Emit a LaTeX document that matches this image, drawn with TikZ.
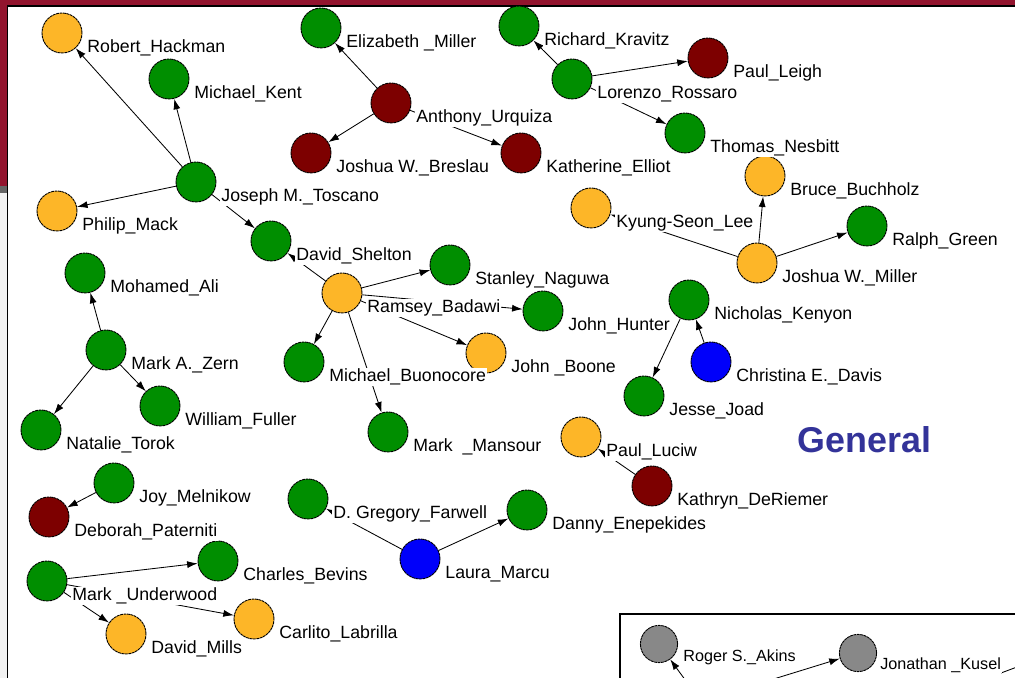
\documentclass[tikz,border=0pt]{standalone}
\usepackage{fontspec}
\setmainfont{Liberation Sans}
\usetikzlibrary{arrows.meta}
\definecolor{amber}{RGB}{253,182,40}
\definecolor{leaf}{RGB}{0,142,0}
\definecolor{wine}{RGB}{125,0,0}
\definecolor{royal}{RGB}{0,0,250}
\definecolor{ash}{RGB}{136,136,136}
\definecolor{slide}{RGB}{146,20,46}
\definecolor{titleblue}{RGB}{51,51,153}
\begin{document}
\begin{tikzpicture}[x=0.025cm, y=-0.025cm,
	person/.style={circle, draw, line width=0.65pt, dash pattern=on 2pt off 0.45pt, minimum size=1cm, inner sep=0pt},
	amberp/.style={person, fill=amber},
	leafp/.style={person, fill=leaf},
	winep/.style={person, fill=wine},
	royalp/.style={person, fill=royal},
	ashp/.style={person, fill=ash, minimum size=0.93cm},
	tag/.style={fill=white, inner sep=0.8pt, anchor=base west, font=\fontsize{12.6}{15}\selectfont},
	smalltag/.style={tag, font=\fontsize{11.5}{14}\selectfont},
	link/.style={line width=0.6pt, -{Latex[length=7.5pt,width=5pt]}}]
		\path[use as bounding box] (0,0) rectangle (1015,678);
		\clip (0,0) rectangle (1015,678);

		% slide frame
		\fill[slide] (0,0) rectangle (1015,5.5);
		\fill[slide] (0,0) rectangle (7,186);
		\fill[black!60] (0,186) rectangle (7,193);
		\fill[black!5] (0,193) rectangle (7,678);
		\draw[line width=1.4pt] (7.5,678) |- (1015,6.2);
		\draw[line width=1.1pt] (620,690) |- (1030,614);

		\path (62,33) node[amberp] (hackman) {}
		(169,79) node[leafp] (kent) {}
		(196,182) node[leafp] (toscano) {}
		(57,211) node[amberp] (mack) {}
		(271,241) node[leafp] (shelton) {}
		(321,28) node[leafp] (emiller) {}
		(391,103) node[winep] (urquiza) {}
		(311,153) node[winep] (breslau) {}
		(521,153) node[winep] (elliot) {}
		(519,26) node[leafp] (kravitz) {}
		(572,79) node[leafp] (rossaro) {}
		(708,58) node[winep] (leigh) {}
		(685,133) node[leafp] (nesbitt) {}
		(765,176) node[amberp] (buchholz) {}
		(591,208) node[amberp] (lee) {}
		(867,226) node[leafp] (ralph) {}
		(757,263) node[amberp] (jmiller) {}
		(85,273) node[leafp] (ali) {}
		(106,350) node[leafp] (zern) {}
		(41,430) node[leafp] (torok) {}
		(160,406) node[leafp] (fuller) {}
		(342,293) node[amberp] (badawi) {}
		(450,265) node[leafp] (naguwa) {}
		(543,311) node[leafp] (hunter) {}
		(486,353) node[amberp] (boone) {}
		(304,362) node[leafp] (buonocore) {}
		(388,432) node[leafp] (mansour) {}
		(689,300) node[leafp] (kenyon) {}
		(711,362) node[royalp] (davis) {}
		(644,396) node[leafp] (joad) {}
		(581,437) node[amberp] (luciw) {}
		(652,486) node[winep] (deriemer) {}
		(114,483) node[leafp] (melnikow) {}
		(49,517) node[winep] (paterniti) {}
		(47,581) node[leafp] (underwood) {}
		(218,561) node[leafp] (bevins) {}
		(254,619) node[amberp] (labrilla) {}
		(126,634) node[amberp] (mills) {}
		(308,499) node[leafp] (farwell) {}
		(420,559) node[royalp] (marcu) {}
		(527,510) node[leafp] (enepekides) {}
		(659,644) node[ashp] (akins) {}
		(858,653) node[ashp] (kusel) {};

		\coordinate (akinsIn) at (702,703);
		\coordinate (kuselIn) at (738,690);
		\coordinate (offA) at (1001,673);
		\coordinate (offB) at (1025,664);

		\path[link] (toscano) edge (hackman) edge (kent) edge (mack) edge (shelton)
		(urquiza) edge (emiller) edge (breslau) edge (elliot)
		(rossaro) edge (kravitz) edge (leigh) edge (nesbitt)
		(jmiller) edge (buchholz) edge (ralph) edge (lee)
		(badawi) edge (shelton) edge (naguwa) edge (hunter) edge (boone) edge (buonocore) edge (mansour)
		(zern) edge (ali) edge (torok) edge (fuller)
		(kenyon) edge (joad)
		(davis) edge (kenyon)
		(deriemer) edge (luciw)
		(melnikow) edge (paterniti)
		(underwood) edge (bevins) edge (mills) edge (labrilla)
		(marcu) edge (farwell) edge (enepekides)
		(akinsIn) edge (akins)
		(kuselIn) edge (kusel);
		\draw[line width=0.6pt] (offA) -- (offB);

		% names
		\path node[tag] (hackmanL) at ([shift={(24,19.5)}]hackman.center) {Robert\_Hackman}
		node[tag] (kentL) at ([shift={(24,19.5)}]kent.center) {Michael\_Kent}
		node[tag] (toscanoL) at ([shift={(24,19.5)}]toscano.center) {Joseph M.\_Toscano}
		node[tag] (mackL) at ([shift={(24,19.5)}]mack.center) {Philip\_Mack}
		node[tag] (sheltonL) at ([shift={(24,19.5)}]shelton.center) {David\_Shelton}
		node[tag] (emillerL) at ([shift={(24,19.5)}]emiller.center) {Elizabeth \_Miller}
		node[tag] (urquizaL) at ([shift={(24,19.5)}]urquiza.center) {Anthony\_Urquiza}
		node[tag] (breslauL) at ([shift={(24,19.5)}]breslau.center) {Joshua W.\_Breslau}
		node[tag] (elliotL) at ([shift={(24,19.5)}]elliot.center) {Katherine\_Elliot}
		node[tag] (kravitzL) at ([shift={(24,19.5)}]kravitz.center) {Richard\_Kravitz}
		node[tag] (rossaroL) at ([shift={(24,19.5)}]rossaro.center) {Lorenzo\_Rossaro}
		node[tag] (leighL) at ([shift={(24,19.5)}]leigh.center) {Paul\_Leigh}
		node[tag] (nesbittL) at ([shift={(24,19.5)}]nesbitt.center) {Thomas\_Nesbitt}
		node[tag] (buchholzL) at ([shift={(24,19.5)}]buchholz.center) {Bruce\_Buchholz}
		node[tag] (leeL) at ([shift={(24,19.5)}]lee.center) {Kyung-Seon\_Lee}
		node[tag] (ralphL) at ([shift={(24,19.5)}]ralph.center) {Ralph\_Green}
		node[tag] (jmillerL) at ([shift={(24,19.5)}]jmiller.center) {Joshua W.\_Miller}
		node[tag] (aliL) at ([shift={(24,19.5)}]ali.center) {Mohamed\_Ali}
		node[tag] (zernL) at ([shift={(24,19.5)}]zern.center) {Mark A.\_Zern}
		node[tag] (torokL) at ([shift={(24,19.5)}]torok.center) {Natalie\_Torok}
		node[tag] (fullerL) at ([shift={(24,19.5)}]fuller.center) {William\_Fuller}
		node[tag] (badawiL) at ([shift={(24,19.5)}]badawi.center) {Ramsey\_Badawi}
		node[tag] (naguwaL) at ([shift={(24,19.5)}]naguwa.center) {Stanley\_Naguwa}
		node[tag] (hunterL) at ([shift={(24,19.5)}]hunter.center) {John\_Hunter}
		node[tag] (booneL) at ([shift={(24,19.5)}]boone.center) {John \_Boone}
		node[tag] (buonocoreL) at ([shift={(24,19.5)}]buonocore.center) {Michael\_Buonocore}
		node[tag] (mansourL) at ([shift={(24,19.5)}]mansour.center) {Mark\ \ \_Mansour}
		node[tag] (kenyonL) at ([shift={(24,19.5)}]kenyon.center) {Nicholas\_Kenyon}
		node[tag] (davisL) at ([shift={(24,19.5)}]davis.center) {Christina E.\_Davis}
		node[tag] (joadL) at ([shift={(24,19.5)}]joad.center) {Jesse\_Joad}
		node[tag] (luciwL) at ([shift={(24,19.5)}]luciw.center) {Paul\_Luciw}
		node[tag] (deriemerL) at ([shift={(24,19.5)}]deriemer.center) {Kathryn\_DeRiemer}
		node[tag] (melnikowL) at ([shift={(24,19.5)}]melnikow.center) {Joy\_Melnikow}
		node[tag] (paternitiL) at ([shift={(24,19.5)}]paterniti.center) {Deborah\_Paterniti}
		node[tag] (underwoodL) at ([shift={(24,19.5)}]underwood.center) {Mark \_Underwood}
		node[tag] (bevinsL) at ([shift={(24,19.5)}]bevins.center) {Charles\_Bevins}
		node[tag] (labrillaL) at ([shift={(24,19.5)}]labrilla.center) {Carlito\_Labrilla}
		node[tag] (millsL) at ([shift={(24,19.5)}]mills.center) {David\_Mills}
		node[tag] (farwellL) at ([shift={(24,19.5)}]farwell.center) {D. Gregory\_Farwell}
		node[tag] (marcuL) at ([shift={(24,19.5)}]marcu.center) {Laura\_Marcu}
		node[tag] (enepekidesL) at ([shift={(24,19.5)}]enepekides.center) {Danny\_Enepekides}
		node[smalltag] (akinsL) at ([shift={(23,17)}]akins.center) {Roger S.\_Akins}
		node[smalltag] (kuselL) at ([shift={(21,16)}]kusel.center) {Jonathan \_Kusel};

		\node[anchor=base, text=titleblue, font=\bfseries\fontsize{25.5}{30}\selectfont] (general) at (864.5,452) {General};
	\end{tikzpicture}
\end{document}
